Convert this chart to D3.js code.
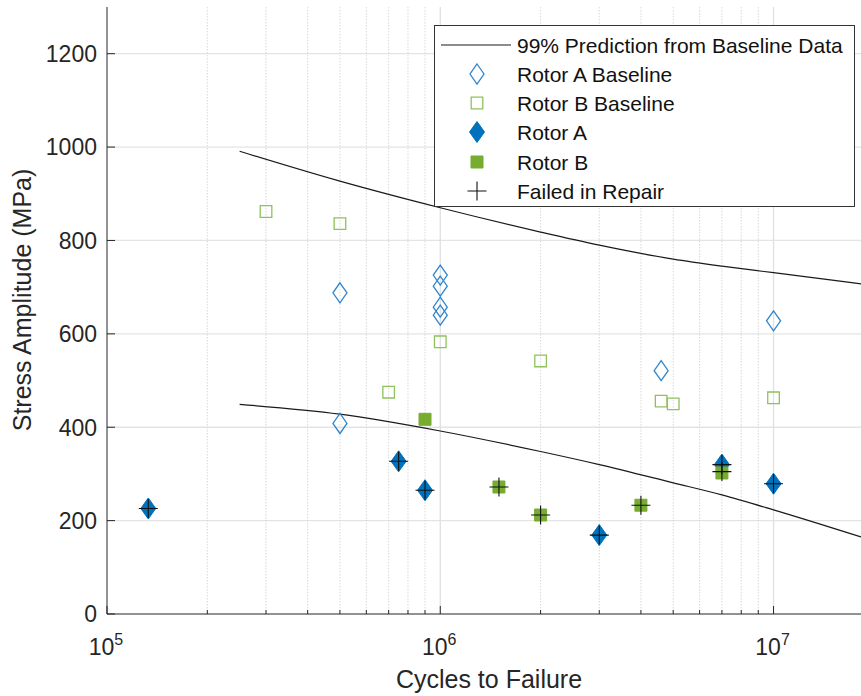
<!DOCTYPE html>
<html>
<head>
<meta charset="utf-8">
<script src="https://cdn.jsdelivr.net/npm/d3@7"></script>
<style>
  body { margin: 0; background: #fff; }
  svg { display: block; font-family: "Liberation Sans", Arial, Helvetica, sans-serif; }
</style>
</head>
<body>
<div id="chart"></div>
<script>
// Baseline tests (open markers)
const rotorABaseCycles = [5e5, 5e5, 1e6, 1e6, 1e6, 1e6, 4.6e6, 1e7];
const rotorABaseStress = [688, 408, 726, 702, 657, 640, 521, 628];
const rotorBBaseCycles = [3e5, 5e5, 7e5, 1e6, 2e6, 4.6e6, 5e6, 1e7];
const rotorBBaseStress = [862, 836, 475, 583, 542, 456, 450, 463];

// Repaired rotor tests (filled markers)
const rotorACycles = [1.33e5, 7.5e5, 9e5, 3e6, 7e6, 1e7];
const rotorAStress = [226, 327, 265, 169, 320, 279];
const rotorBCycles = [9e5, 1.5e6, 2e6, 4e6, 7e6];
const rotorBStress = [417, 272, 212, 233, 302];

// Failed in repair (plus markers)
const failedCycles = [1.33e5, 7.5e5, 9e5, 3e6, 7e6, 1e7, 1.5e6, 2e6, 4e6, 7e6];
const failedStress = [226, 327, 265, 169, 320, 279, 272, 212, 233, 305];

// 99% prediction bounds from baseline data
const predCycles = [2.5e5, 5e5, 1e6, 2e6, 3e6, 5e6, 7e6, 1e7, 1.83e7];
const predUpper = [991, 927, 870, 818, 790, 760, 745, 731, 707];
const predLower = [449, 428, 392, 348, 320, 281, 255, 223, 165];

const yTicks = [0, 200, 400, 600, 800, 1000, 1200];
const xMajor = [1e5, 1e6, 1e7];
const xExp = [5, 6, 7];

const legendLabels = [
    "99% Prediction from Baseline Data",
    "Rotor A Baseline",
    "Rotor B Baseline",
    "Rotor A",
    "Rotor B",
    "Failed in Repair",
];

const W = 861, H = 696;
const axisColor = "#262626";
const blue = "#0072BD", blueLight = "#2f86cf";
const green = "#77AC30", greenLight = "#8fc25a";

const svg = d3.select("#chart").append("svg")
    .attr("width", W).attr("height", H);

const x = d3.scaleLog().domain([1e5, 1.83e7]).range([107, 861]);
const y = d3.scaleLinear().domain([0, 1300]).range([614, 7]);

// minor x ticks 2..9 x 10^k
const xMinor = [];
[1e5, 1e6, 1e7].forEach((d) => {
    for (let k = 2; k <= 9; k++) if (d * k <= x.domain()[1]) xMinor.push(d * k);
});

// grid
const grid = svg.append("g");
grid.selectAll(".ygrid").data(yTicks.filter((d) => d > 0)).join("line")
    .attr("x1", x.range()[0]).attr("x2", x.range()[1])
    .attr("y1", (d) => y(d)).attr("y2", (d) => y(d))
    .attr("stroke", "#e4e4e4").attr("stroke-width", 1.3);
grid.selectAll(".xminor").data(xMinor).join("line")
    .attr("x1", (d) => x(d)).attr("x2", (d) => x(d))
    .attr("y1", y.range()[1]).attr("y2", y.range()[0])
    .attr("stroke", "#d2d2d2").attr("stroke-width", 0.9)
    .attr("stroke-dasharray", "1.5,1.5");
grid.selectAll(".xmajor").data(xMajor.slice(1)).join("line")
    .attr("x1", (d) => x(d)).attr("x2", (d) => x(d))
    .attr("y1", y.range()[1]).attr("y2", y.range()[0])
    .attr("stroke", "#e0e0e0").attr("stroke-width", 1.3);

// prediction curves
const line = d3.line()
    .x((d) => x(d[0])).y((d) => y(d[1]))
    .curve(d3.curveMonotoneX);
[predUpper, predLower].forEach((s) => {
    svg.append("path")
        .datum(predCycles.map((c, i) => [c, s[i]]))
        .attr("d", line)
        .attr("fill", "none")
        .attr("stroke", "#1a1a1a")
        .attr("stroke-width", 1.2);
});

// marker shapes
function diamond(sel, w, h) {
    sel.attr("d", `M0,${-h}L${w},0L0,${h}L${-w},0Z`);
}
function square(sel, s) {
    sel.attr("d", `M${-s},${-s}H${s}V${s}H${-s}Z`);
}
function plus(sel, s) {
    sel.attr("d", `M${-s},0H${s}M0,${-s}V${s}`);
}

function drawMarkers(cyc, str, kind) {
    const g = svg.append("g");
    const m = g.selectAll("path").data(cyc.map((c, i) => [c, str[i]])).join("path")
        .attr("transform", (d) => `translate(${x(d[0])},${y(d[1])})`);
    styleMarker(m, kind);
}

function styleMarker(m, kind) {
    if (kind == "aBase") {
        m.call(diamond, 7, 10).attr("fill", "none").attr("stroke", blueLight).attr("stroke-width", 1.3);
    } else if (kind == "bBase") {
        m.call(square, 5.8).attr("fill", "none").attr("stroke", greenLight).attr("stroke-width", 1.3);
    } else if (kind == "a") {
        m.call(diamond, 7.5, 10.5).attr("fill", blue).attr("stroke", blue).attr("stroke-width", 1);
    } else if (kind == "b") {
        m.call(square, 6).attr("fill", green).attr("stroke", green).attr("stroke-width", 1);
    } else if (kind == "fail") {
        m.call(plus, 9.5).attr("fill", "none").attr("stroke", "#111").attr("stroke-width", 1.1);
    }
}

drawMarkers(rotorABaseCycles, rotorABaseStress, "aBase");
drawMarkers(rotorBBaseCycles, rotorBBaseStress, "bBase");
drawMarkers(rotorACycles, rotorAStress, "a");
drawMarkers(rotorBCycles, rotorBStress, "b");
drawMarkers(failedCycles, failedStress, "fail");

// axes
const ax = svg.append("g").attr("stroke", axisColor).attr("stroke-width", 1);
ax.append("line").attr("x1", x.range()[0]).attr("x2", x.range()[0])
    .attr("y1", y.range()[1]).attr("y2", y.range()[0]);
ax.append("line").attr("x1", x.range()[0]).attr("x2", x.range()[1])
    .attr("y1", y.range()[0]).attr("y2", y.range()[0]);
ax.selectAll(".yt").data(yTicks).join("line")
    .attr("x1", x.range()[0]).attr("x2", x.range()[0] + 8)
    .attr("y1", (d) => y(d)).attr("y2", (d) => y(d));
ax.selectAll(".xt").data(xMajor).join("line")
    .attr("x1", (d) => x(d)).attr("x2", (d) => x(d))
    .attr("y1", y.range()[0]).attr("y2", y.range()[0] - 8);
ax.selectAll(".xm").data(xMinor).join("line")
    .attr("x1", (d) => x(d)).attr("x2", (d) => x(d))
    .attr("y1", y.range()[0]).attr("y2", y.range()[0] - 4);

// tick labels
svg.append("g").selectAll("text").data(yTicks).join("text")
    .attr("x", 97).attr("y", (d) => y(d)).attr("dy", "0.36em")
    .attr("text-anchor", "end").attr("font-size", 23).attr("fill", axisColor)
    .text((d) => d);

const xl = svg.append("g").selectAll("text").data(xMajor).join("text")
    .attr("x", (d) => x(d) - 1).attr("y", 655)
    .attr("text-anchor", "middle").attr("font-size", 23).attr("fill", axisColor);
xl.append("tspan").text("10");
xl.append("tspan").attr("font-size", 16).attr("dy", -10).text((d, i) => xExp[i]);

// axis labels
svg.append("text")
    .attr("x", 489).attr("y", 688)
    .attr("text-anchor", "middle").attr("font-size", 25).attr("fill", axisColor)
    .text("Cycles to Failure");
svg.append("text")
    .attr("transform", "translate(31,300) rotate(-90)")
    .attr("text-anchor", "middle").attr("font-size", 25).attr("fill", axisColor)
    .text("Stress Amplitude (MPa)");

// legend
const leg = svg.append("g");
leg.append("rect")
    .attr("x", 434.5).attr("y", 25.5).attr("width", 420).attr("height", 181)
    .attr("fill", "#fff").attr("stroke", "#333").attr("stroke-width", 1);
const kinds = ["line", "aBase", "bBase", "a", "b", "fail"];
const legY = [45, 74, 103, 132, 162, 191];
kinds.forEach((k, i) => {
    if (k == "line") {
        leg.append("line").attr("x1", 441).attr("x2", 511)
            .attr("y1", legY[i]).attr("y2", legY[i])
            .attr("stroke", "#1a1a1a").attr("stroke-width", 1.2);
    } else {
        const m = leg.append("path").attr("transform", `translate(477,${legY[i]})`);
        styleMarker(m, k);
    }
    leg.append("text")
        .attr("x", 517).attr("y", legY[i]).attr("dy", "0.36em")
        .attr("font-size", 21).attr("fill", "#111")
        .text(legendLabels[i]);
});
</script>
</body>
</html>
